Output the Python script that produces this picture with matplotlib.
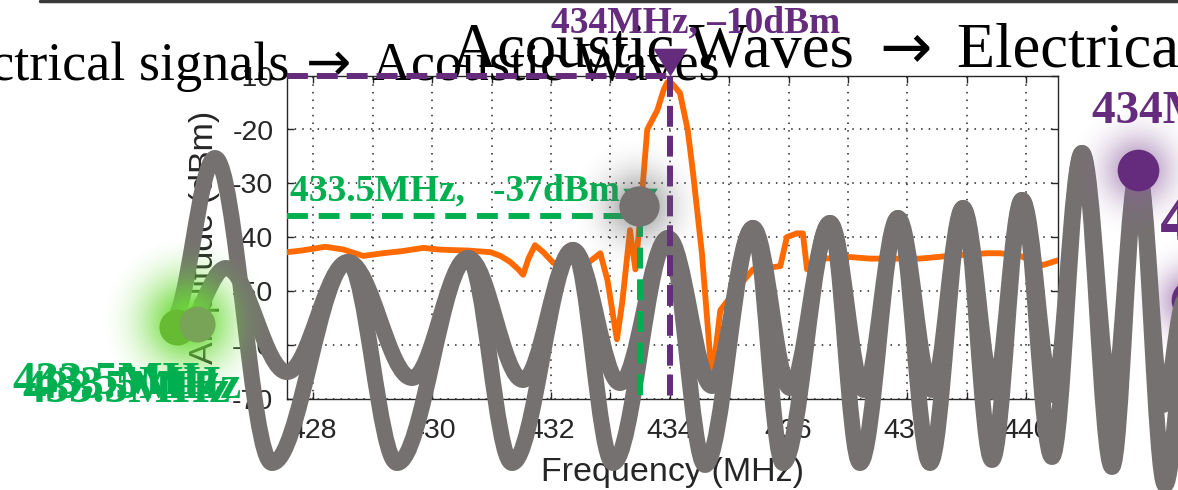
import numpy as np
import matplotlib
matplotlib.use("Agg")
import matplotlib.pyplot as plt
from matplotlib.path import Path
from matplotlib.patches import PathPatch

# ---------------- data ----------------
freq_mhz = [427.56, 427.8, 428.2, 428.5, 428.84, 429.17, 429.5, 429.85, 430.1, 430.3,
            430.6, 430.98, 431.15, 431.31, 431.45, 431.53, 431.62, 431.73, 431.87, 432.04,
            432.3, 432.6, 432.83, 432.95, 433.05, 433.11, 433.2, 433.33, 433.42, 433.5,
            433.62, 433.79, 433.9, 433.96, 434.04, 434.17, 434.3, 434.39, 434.54, 434.71,
            434.85, 435.07, 435.4, 435.6, 435.86, 435.97, 436.14, 436.24, 436.31, 436.6,
            437.03, 437.37, 437.8, 438.21, 438.7, 439.34, 439.56, 439.9, 440.28, 440.54]
amp_dbm = [-42.8, -42.5, -41.8, -42.3, -43.5, -43.0, -42.6, -42.0, -42.3, -42.4,
           -42.5, -42.8, -43.5, -44.6, -46.0, -47.0, -44.0, -41.5, -42.8, -44.8,
           -44.5, -45.0, -43.0, -48.0, -55.0, -59.0, -52.0, -38.7, -46.0, -36.3,
           -20.0, -16.4, -12.5, -11.2, -11.5, -13.2, -20.0, -28.0, -43.0, -66.6,
           -53.6, -50.4, -46.0, -45.8, -45.4, -40.0, -39.3, -39.3, -46.0, -44.0,
           -43.7, -44.0, -44.0, -44.0, -43.5, -43.0, -43.0, -43.5, -45.2, -44.3]

x_ticks = [428, 429, 430, 431, 432, 433, 434, 435, 436, 437, 438, 439, 440]
x_tick_labels = ["428", "", "430", "", "432", "", "434", "", "436", "", "438", "", "440"]
y_ticks = [-70, -60, -50, -40, -30, -20, -10]
y_tick_labels = ["-70", "-60", "-50", "-40", "-30", "-20", "-10"]

peak_freq, peak_amp = 434.0, -10.0
marker_freq, marker_amp = 433.5, -36.0
peak_label = "434MHz, \u201310dBm"
marker_label = "433.5MHz,   -37dBm"

title_a_parts = ["Electrical signals", "\u2192", "Acoustic Waves"]
title_b_parts = ["Acoustic Waves", "\u2192", "Electrical signals"]

# decorative wave (figure pixel coords): extrema of two overlapping strokes
wave_a_x = [185, 226, 287, 348, 412, 468, 523, 573, 620, 668, 712, 753, 790, 830, 864,
            898, 932, 963, 994, 1022, 1053, 1082, 1112, 1138, 1163, 1185]
wave_a_y = [325, 268, 372, 262, 378, 258, 380, 250, 383, 238, 386, 228, 388, 223, 390,
            218, 390, 208, 392, 200, 395, 153, 400, 170, 405, 300]
wave_b_x = [172, 215, 272, 348, 397, 468, 512, 573, 613, 668, 705, 753, 783, 830, 860,
            898, 930, 963, 992, 1022, 1052, 1082, 1112, 1138, 1165, 1190]
wave_b_y = [320, 158, 463, 262, 463, 258, 463, 250, 463, 238, 465, 228, 463, 223, 463,
            218, 463, 208, 460, 200, 457, 153, 467, 170, 485, 300]

# floating dots (figure pixel coords)
green_dot_x = [177, 197]
green_dot_y = [327, 324]
gray_dot_x, gray_dot_y = 639, 206
purple_dot_x = [1138, 1192]
purple_dot_y = [170, 300]

# ---------------- style ----------------
ORANGE = "#ff6a00"
PURPLE = "#652b7c"
GREEN = "#00b050"
GRAY = "#767171"
TXT = "#262626"
W, H = 1178, 490
serif = ["Liberation Serif", "DejaVu Serif"]

plt.rcParams["font.family"] = ["Liberation Sans", "DejaVu Sans"]
fig = plt.figure(figsize=(W / 100, H / 100), dpi=100)
fig.patch.set_facecolor("white")

ax_pos = [287.3 / W, 1 - 398.5 / H, (1058.3 - 287.3) / W, (398.5 - 75.7) / H]
ax = fig.add_axes(ax_pos, zorder=1)
ax.plot(freq_mhz, amp_dbm, color=ORANGE, lw=4.2, solid_joinstyle="round", zorder=3)
ax.set_xlim(427.56, 440.54)
ax.set_ylim(-70, -10)
ax.set_xticks(x_ticks)
ax.set_xticklabels(x_tick_labels)
ax.set_yticks(y_ticks)
ax.set_yticklabels(y_tick_labels)
ax.grid(True, color="#222222", lw=1.1, linestyle=(0, (1, 4)))
ax.tick_params(direction="in", top=True, right=True, length=5, width=1, colors=TXT,
               labelsize=20.5)
ax.tick_params(axis="x", pad=14)
ax.tick_params(axis="y", pad=10)
for s in ax.spines.values():
    s.set_color(TXT)
    s.set_linewidth(1)
ax.set_xlabel("Frequency (MHz)", fontsize=24.5, color=TXT)
ax.set_ylabel("Amplitude (dBm)", fontsize=24.5, color=TXT)
ax.xaxis.set_label_coords(0.5, -0.18)
ax.yaxis.set_label_coords(-0.087, 0.5)

# pixel overlay (titles, wave)
axp = fig.add_axes([0, 0, 1, 1], zorder=3)
axp.set_xlim(0, W)
axp.set_ylim(H, 0)
axp.axis("off")
axp.patch.set_alpha(0)


def glow(a, cx, cy, r, rgb, amax, zorder, width=0.5):
    n = 121
    g = np.linspace(-1, 1, n)
    xx, yy = np.meshgrid(g, g)
    d = np.sqrt(xx ** 2 + yy ** 2)
    base = np.exp(-(1 / width) ** 2)
    alpha = amax * np.clip(np.exp(-(d / width) ** 2) - base, 0, None) / (1 - base)
    img = np.zeros((n, n, 4))
    img[..., :3] = rgb
    img[..., 3] = alpha
    a.imshow(img, extent=[cx - r, cx + r, cy + r, cy - r], interpolation="bilinear",
             zorder=zorder, aspect="auto")


def wave_path(xs, ys, k=0.3642):
    verts = [(xs[0], ys[0])]
    codes = [Path.MOVETO]
    for i in range(len(xs) - 1):
        dx = xs[i + 1] - xs[i]
        verts += [(xs[i] + k * dx, ys[i]), (xs[i + 1] - k * dx, ys[i + 1]), (xs[i + 1], ys[i + 1])]
        codes += [Path.CURVE4] * 3
    return Path(verts, codes)


axp.plot([40, W], [1.5, 1.5], color="#3a3a3a", lw=2.5, solid_capstyle="round", zorder=1)

# first (outgoing) title
axp.text(290, 80, title_a_parts[0], fontsize=39, family=serif, color="black",
         va="baseline", ha="right", zorder=2)
axp.text(306, 80, title_a_parts[1], fontsize=39, family=["DejaVu Sans"], color="black",
         va="baseline", ha="left", zorder=2)
axp.text(372, 80, title_a_parts[2], fontsize=39, family=serif, color="black",
         va="baseline", ha="left", zorder=2)
# second (incoming) title
axp.text(452, 67, title_b_parts[0], fontsize=45, family=serif, color="black",
         va="baseline", ha="left", zorder=2)
axp.text(879, 67, title_b_parts[1], fontsize=45, family=["DejaVu Sans"], color="black",
         va="baseline", ha="left", zorder=2)
axp.text(957, 67, title_b_parts[2], fontsize=45, family=serif, color="black",
         va="baseline", ha="left", zorder=2)

# second purple dot sits below wave
glow(axp, purple_dot_x[1], purple_dot_y[1], 65, (0.55, 0.35, 0.62), 0.7, 1)
axp.plot(purple_dot_x[1], purple_dot_y[1], "o", ms=30, color=PURPLE, mec="none", zorder=1.5)

for xs, ys in ((wave_b_x, wave_b_y), (wave_a_x, wave_a_y)):
    axp.add_patch(PathPatch(wave_path(xs, ys), fill=False, edgecolor=GRAY, lw=11.5,
                            capstyle="round", joinstyle="round", zorder=3))

# annotation layer in data coords
axa = fig.add_axes(ax_pos, zorder=4)
axa.set_xlim(ax.get_xlim())
axa.set_ylim(ax.get_ylim())
axa.axis("off")
axa.patch.set_alpha(0)
x0 = ax.get_xlim()[0]
axa.plot([x0, peak_freq], [peak_amp, peak_amp], color=PURPLE, lw=4.3,
         linestyle=(0, (3.5, 1.5)), clip_on=False)
axa.plot([peak_freq, peak_freq], [peak_amp, -70], color=PURPLE, lw=4.3,
         linestyle=(0, (3.5, 1.5)), clip_on=False)
axa.plot([x0, marker_freq], [marker_amp, marker_amp], color=GREEN, lw=4.3,
         linestyle=(0, (3.5, 1.8)), clip_on=False)
axa.plot([marker_freq, marker_freq], [marker_amp, -70], color=GREEN, lw=4.3,
         linestyle=(0, (3.5, 1.8)), clip_on=False)
tri = [(0, 0), (-0.62, 1), (0.62, 1), (0, 0)]
axa.plot(peak_freq, peak_amp, marker=tri, ms=40, color=PURPLE, mec="none", clip_on=False)
axa.plot(marker_freq, marker_amp, marker=tri, ms=40, color=GREEN, mec="none", clip_on=False)
axa.text(427.6, -33.2, marker_label, fontsize=27, fontweight="bold", family=serif,
         color=GREEN, va="baseline", ha="left")
axa.text(432.0, -1.9, peak_label, fontsize=27, fontweight="bold", family=serif,
         color=PURPLE, va="baseline", ha="left", clip_on=False)

# top overlay: glows, dots, floating labels
axt = fig.add_axes([0, 0, 1, 1], zorder=6)
axt.set_xlim(0, W)
axt.set_ylim(H, 0)
axt.axis("off")
axt.patch.set_alpha(0)
glow(axt, 188, 322, 85, (0.42, 0.86, 0.22), 1.0, 1, width=0.55)
glow(axt, gray_dot_x, gray_dot_y, 70, (0.42, 0.42, 0.42), 0.6, 1)
glow(axt, purple_dot_x[0], purple_dot_y[0], 70, (0.55, 0.38, 0.62), 0.65, 1)
axt.plot(green_dot_x[0], green_dot_y[0], "o", ms=26, color="#66bb33", mec="none", zorder=2)
axt.plot(green_dot_x[1], green_dot_y[1], "o", ms=26, color="#78a457", mec="none", zorder=2)
axt.plot(gray_dot_x, gray_dot_y, "o", ms=29, color=GRAY, mec="none", zorder=2)
axt.plot(purple_dot_x[0], purple_dot_y[0], "o", ms=30, color=PURPLE, mec="none", zorder=2)

for tx, ty in ((12, 394), (22, 402), (33, 398)):
    axt.text(tx, ty, "433.5MHz", fontsize=34, fontweight="bold", family=serif,
             color=GREEN, va="baseline", ha="left", zorder=3)
axt.text(1092, 123, "434MHz, \u201310dBm", fontsize=34, fontweight="bold", family=serif,
         color=PURPLE, va="baseline", ha="left", zorder=3)
for ty in (235, 239):
    axt.text(1160, ty, "434MHz", fontsize=40, family=serif, color=PURPLE,
             va="baseline", ha="left", zorder=3)

fig.savefig("out.png", dpi=100, facecolor="white")
